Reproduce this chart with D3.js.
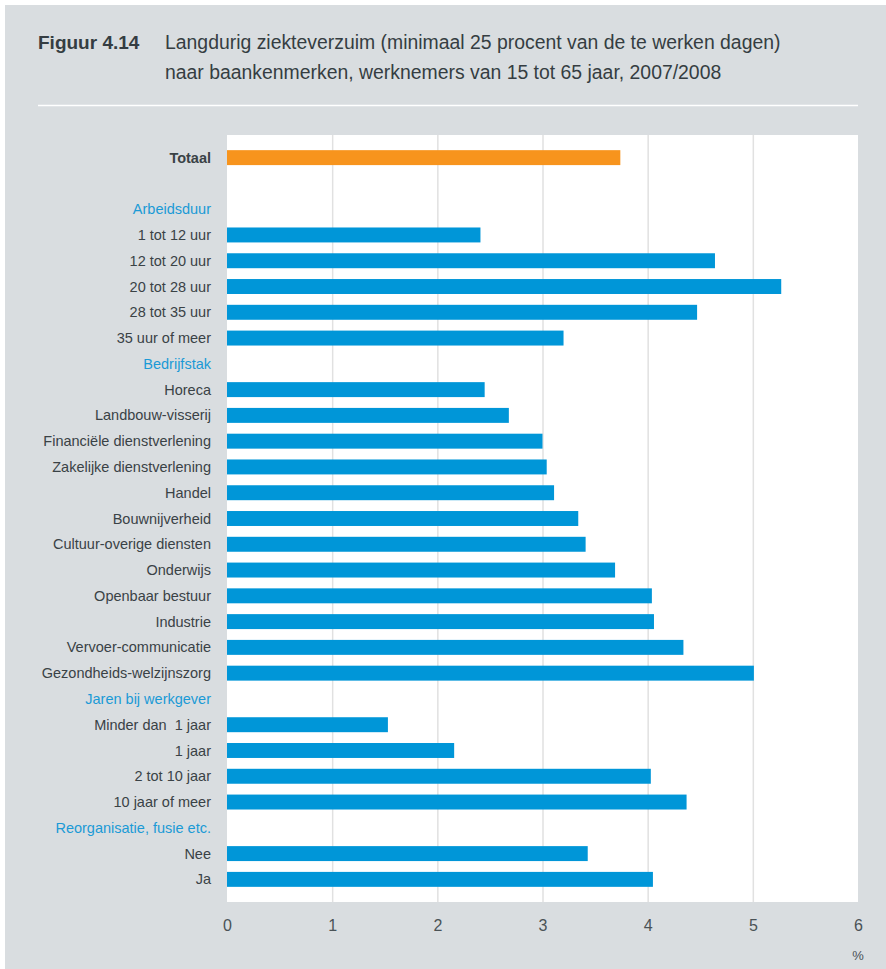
<!DOCTYPE html>
<html>
<head>
<meta charset="utf-8">
<script src="https://cdn.jsdelivr.net/npm/d3@7"></script>
<style>
  body { margin: 0; background: #fff; }
  svg { display: block; font-family: "Liberation Sans", Arial, sans-serif; }
</style>
</head>
<body>
<div class="C"></div>
<script>
// rows top to bottom; kind: total / head / item / blank
var labels = ['Totaal', '', 'Arbeidsduur', '1 tot 12 uur', '12 tot 20 uur', '20 tot 28 uur', '28 tot 35 uur', '35 uur of meer',
  'Bedrijfstak', 'Horeca', 'Landbouw-visserij', 'Financiële dienstverlening', 'Zakelijke dienstverlening', 'Handel',
  'Bouwnijverheid', 'Cultuur-overige diensten', 'Onderwijs', 'Openbaar bestuur', 'Industrie', 'Vervoer-communicatie',
  'Gezondheids-welzijnszorg', 'Jaren bij werkgever', 'Minder dan  1 jaar', '1 jaar', '2 tot 10 jaar', '10 jaar of meer',
  'Reorganisatie, fusie etc.', 'Nee', 'Ja'];
var kinds = ['total', 'blank', 'head', 'item', 'item', 'item', 'item', 'item',
  'head', 'item', 'item', 'item', 'item', 'item', 'item', 'item', 'item', 'item', 'item', 'item', 'item',
  'head', 'item', 'item', 'item', 'item', 'head', 'item', 'item'];
var values = [3.74, null, null, 2.41, 4.64, 5.27, 4.47, 3.20,
  null, 2.45, 2.68, 3.00, 3.04, 3.11, 3.34, 3.41, 3.69, 4.04, 4.06, 4.34, 5.01,
  null, 1.53, 2.16, 4.03, 4.37, null, 3.43, 4.05];
var ticks = [0, 1, 2, 3, 4, 5, 6];

var rows = labels.map(function (d, i) {
    return {i: i, label: d, kind: kinds[i], value: values[i]};
});

var W = 886, H = 969;
var svg = d3.select('.C').append('svg').attr('width', W).attr('height', H);

svg.append('rect').attr('x', 5).attr('y', 5).attr('width', W - 5).attr('height', H - 5).style('fill', '#d9dde0');

// title
var title = svg.append('g').style('fill', '#353d42');
title.append('text').text('Figuur 4.14').attr('x', 38).attr('y', 49)
    .style('font-size', '19px').style('font-weight', 'bold');
title.append('text').text('Langdurig ziekteverzuim (minimaal 25 procent van de te werken dagen)')
    .attr('x', 165).attr('y', 49).style('font-size', '19.4px');
title.append('text').text('naar baankenmerken, werknemers van 15 tot 65 jaar, 2007/2008')
    .attr('x', 165).attr('y', 79).style('font-size', '19.4px');
svg.append('line').attr('x1', 38).attr('x2', 858).attr('y1', 105.5).attr('y2', 105.5)
    .style('stroke', '#fff').style('stroke-width', 1.5);

var pLeft = 227, pRight = 858, pTop = 135, pBottom = 902;
var x = d3.scaleLinear().domain([0, 6]).range([pLeft, pRight]);
var y = d3.scaleBand().domain(d3.range(rows.length)).range([pTop + 10, pBottom - 10]).paddingInner(0.42).paddingOuter(0.2);

svg.append('rect').attr('x', pLeft).attr('y', pTop).attr('width', pRight - pLeft).attr('height', pBottom - pTop)
    .style('fill', '#fff');

// grid
svg.append('g').selectAll('line').data(ticks.slice(1, -1)).enter().append('line')
    .attr('x1', function (d) { return x(d) + 0.5; }).attr('x2', function (d) { return x(d) + 0.5; })
    .attr('y1', pTop).attr('y2', pBottom)
    .style('stroke', '#e1e1e1').style('stroke-width', 1.5);

// bars
svg.append('g').selectAll('rect').data(rows.filter(function (d) { return d.value != null; })).enter()
    .append('rect')
    .attr('x', x(0))
    .attr('y', function (d) { return y(d.i); })
    .attr('height', y.bandwidth())
    .attr('width', function (d) { return x(d.value) - x(0); })
    .style('fill', function (d) { return d.kind == 'total' ? '#f7941d' : '#0096d8'; });

// row labels
svg.append('g').selectAll('text').data(rows).enter().append('text')
    .attr('x', 211)
    .attr('y', function (d) { return y(d.i) + y.bandwidth() / 2; })
    .attr('dy', '0.35em')
    .attr('text-anchor', 'end')
    .style('font-size', '14.5px')
    .style('font-weight', function (d) { return d.kind == 'total' ? 'bold' : 'normal'; })
    .style('fill', function (d) { return d.kind == 'head' ? '#1b9ad6' : '#3a4246'; })
    .style('white-space', 'pre')
    .text(function (d) { return d.label; });

// x axis labels
var xa = d3.axisBottom(x).tickValues(ticks).tickFormat(d3.format('d')).tickSize(0).tickPadding(0);
var gx = svg.append('g').attr('transform', 'translate(0,' + 920 + ')').call(xa);
gx.select('.domain').remove();
gx.selectAll('text').style('font-size', '16px').style('fill', '#4a5256')
    .style('font-family', '"Liberation Sans", Arial, sans-serif');

svg.append('text').text('%').attr('x', 858).attr('y', 960).attr('text-anchor', 'middle')
    .style('font-size', '13px').style('fill', '#4a5256');
</script>
</body>
</html>
